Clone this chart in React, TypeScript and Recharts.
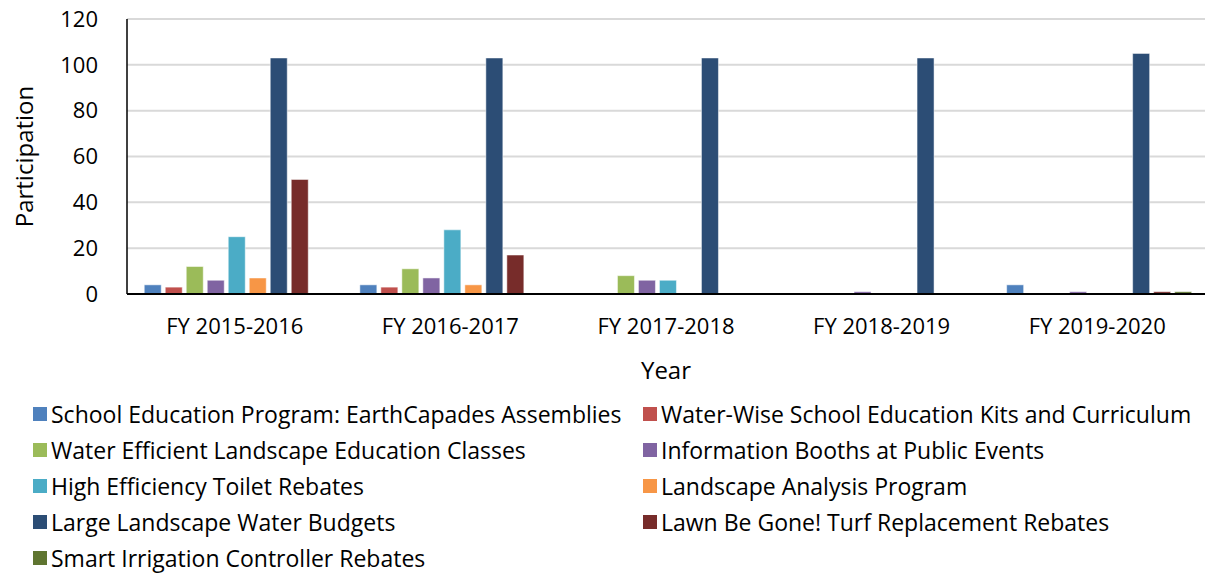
import { BarChart, Bar, XAxis, YAxis, CartesianGrid, Legend } from 'recharts';

const years = ['FY 2015-2016', 'FY 2016-2017', 'FY 2017-2018', 'FY 2018-2019', 'FY 2019-2020'];

const schoolAssemblies = [4, 4, 0, 0, 4];
const schoolKits = [3, 3, 0, 0, 0];
const landscapeClasses = [12, 11, 8, 0, 0];
const infoBooths = [6, 7, 6, 1, 1];
const toiletRebates = [25, 28, 6, 0, 0];
const landscapeAnalysis = [7, 4, 0, 0, 0];
const waterBudgets = [103, 103, 103, 103, 105];
const lawnBeGone = [50, 17, 0, 0, 1];
const smartIrrigation = [0, 0, 0, 0, 1];

const yTicks = [0, 20, 40, 60, 80, 100, 120];

const series = [
  { key: 'school', name: 'School Education Program: EarthCapades Assemblies', color: '#4F81BD', values: schoolAssemblies },
  { key: 'kits', name: 'Water-Wise School Education Kits and Curriculum', color: '#C0504D', values: schoolKits },
  { key: 'classes', name: 'Water Efficient Landscape Education Classes', color: '#9BBB59', values: landscapeClasses },
  { key: 'booths', name: 'Information Booths at Public Events', color: '#8064A2', values: infoBooths },
  { key: 'toilet', name: 'High Efficiency Toilet Rebates', color: '#4BACC6', values: toiletRebates },
  { key: 'analysis', name: 'Landscape Analysis Program', color: '#F79646', values: landscapeAnalysis },
  { key: 'budgets', name: 'Large Landscape Water Budgets', color: '#2C4D75', values: waterBudgets },
  { key: 'lawn', name: 'Lawn Be Gone! Turf Replacement Rebates', color: '#772C2A', values: lawnBeGone },
  { key: 'smart', name: 'Smart Irrigation Controller Rebates', color: '#5F7530', values: smartIrrigation },
];

const chartData = years.map((year, i) => {
  const row: Record<string, string | number> = { year };
  series.forEach((s) => {
    row[s.key] = s.values[i];
  });
  return row;
});

const font = '"Open Sans", Lato, sans-serif';

function LegendBox() {
  return (
    <div
      style={{
        display: 'grid',
        gridTemplateColumns: '610px 570px',
        paddingLeft: 33,
        paddingTop: 20,
        fontFamily: font,
        fontSize: 23,
        color: '#000',
      }}
    >
      {series.map((s) => (
        <div key={s.key} style={{ display: 'flex', alignItems: 'center', height: 36, whiteSpace: 'nowrap' }}>
          <span style={{ width: 14, height: 14, background: s.color, marginRight: 4, display: 'inline-block', flexShrink: 0 }} />
          <span>{s.name}</span>
        </div>
      ))}
    </div>
  );
}

export default function App() {
  return (
    <div style={{ position: 'absolute', left: 0, top: 0, width: 1215, height: 576, background: '#fff' }}>
      <BarChart
        width={1215}
        height={576}
        data={chartData}
        margin={{ top: 19, right: 10, left: 10, bottom: 0 }}
        barCategoryGap="8%"
        barGap={4}
      >
        <CartesianGrid vertical={false} stroke="#D9D9D9" strokeWidth={2} />
        <XAxis
          dataKey="year"
          tickLine={false}
          axisLine={{ stroke: '#000', strokeWidth: 2 }}
          tick={{ fontSize: 22, fill: '#000', fontFamily: font }}
          tickMargin={18}
          height={82}
          label={{ value: 'Year', position: 'insideBottom', offset: -3, fontSize: 24, fill: '#000', fontFamily: font }}
        />
        <YAxis
          domain={[0, 120]}
          ticks={yTicks}
          tickLine={false}
          axisLine={{ stroke: '#000', strokeWidth: 1.5 }}
          tick={{ fontSize: 22, fill: '#000', fontFamily: font }}
          tickMargin={23}
          width={117}
          label={{ value: 'Participation', angle: -90, position: 'insideLeft', offset: 14, fontSize: 24, fill: '#000', fontFamily: font, style: { textAnchor: 'middle' } }}
        />
        <Legend verticalAlign="bottom" height={200} content={() => <LegendBox />} wrapperStyle={{ left: 0, width: 1215 }} />
        {series.map((s) => (
          <Bar key={s.key} dataKey={s.key} name={s.name} fill={s.color} stroke="#fff" strokeWidth={0.5} isAnimationActive={false} />
        ))}
      </BarChart>
    </div>
  );
}
